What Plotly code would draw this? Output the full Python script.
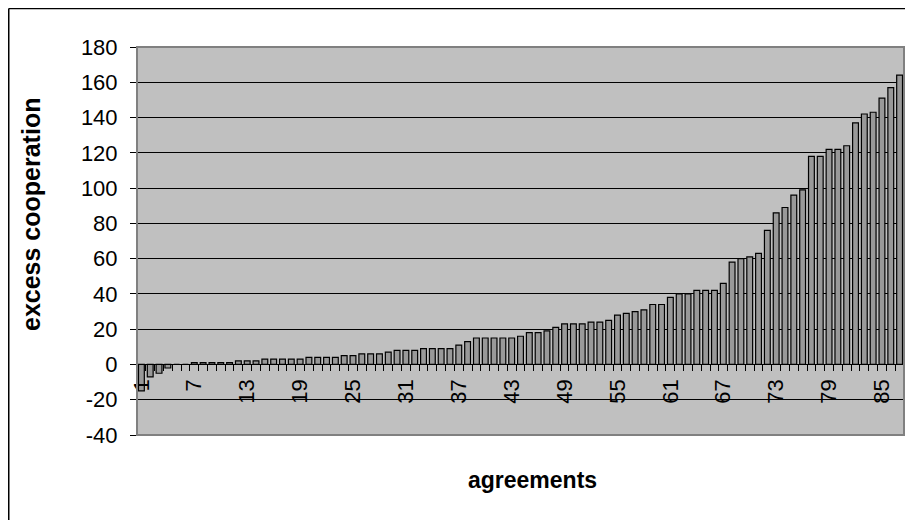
import plotly.graph_objects as go

agreements = list(range(1, 88))
excess_cooperation = [
    -15, -7, -5, -2, 0, 0, 1, 1, 1, 1,
    1, 2, 2, 2, 3, 3, 3, 3, 3, 4,
    4, 4, 4, 5, 5, 6, 6, 6, 7, 8,
    8, 8, 9, 9, 9, 9, 11, 13, 15, 15,
    15, 15, 15, 16, 18, 18, 19, 21, 23, 23,
    23, 24, 24, 25, 28, 29, 30, 31, 34, 34,
    38, 40, 40, 42, 42, 42, 46, 58, 60, 61,
    63, 76, 86, 89, 96, 99, 118, 118, 122, 122,
    124, 137, 142, 143, 151, 157, 164,
]
x_tick_vals = list(range(1, 88, 6))
x_tick_text = [str(v) for v in x_tick_vals]
y_tick_vals = list(range(-40, 181, 20))
y_tick_text = [str(v) for v in y_tick_vals]
y_range = [-40, 180]

FONT = "Liberation Sans, Arial, sans-serif"

W, H = 905, 512
L, R, T, B = 129, 9, 39, 85
PW, PH = W - L - R, H - T - B


def px(x):
    return (x - L) / PW


def py(y):
    return (H - B - y) / PH


fig = go.Figure(
    go.Bar(
        x=agreements,
        y=excess_cooperation,
        marker=dict(color="#999999", line=dict(color="#000000", width=1.2)),
        width=0.66,
    )
)

zero_pos = (0 - y_range[0]) / (y_range[1] - y_range[0])

fig.update_layout(
    width=W,
    height=H,
    margin=dict(l=L, r=R, t=T, b=B),
    paper_bgcolor="#ffffff",
    plot_bgcolor="#c0c0c0",
    showlegend=False,
    font=dict(family=FONT, color="#000000"),
    xaxis=dict(
        range=[0.5, 87.5],
        tickmode="array",
        tickvals=x_tick_vals,
        ticktext=x_tick_text,
        tickangle=-90,
        tickfont=dict(size=22, family=FONT),
        showgrid=False,
        zeroline=False,
        showline=True,
        linecolor="#000000",
        linewidth=1,
        anchor="free",
        position=zero_pos,
        ticks="outside",
        ticklen=0,
        minor=dict(ticks="outside", ticklen=6, tick0=0.5, dtick=1, tickcolor="#000000", tickwidth=1),
        ticklabelstandoff=5,
    ),
    yaxis=dict(
        range=y_range,
        tickmode="array",
        tickvals=y_tick_vals,
        ticktext=y_tick_text,
        tickfont=dict(size=22, family=FONT),
        showgrid=True,
        gridcolor="#000000",
        gridwidth=1,
        zeroline=False,
        showline=True,
        linecolor="#000000",
        linewidth=1,
        ticks="outside",
        ticklen=6,
        tickcolor="#000000",
        ticklabelstandoff=8,
    ),
    shapes=[
        dict(type="rect", xref="paper", yref="paper", x0=0, x1=1, y0=0, y1=1,
             line=dict(color="#808080", width=2), fillcolor="rgba(0,0,0,0)", layer="above"),
        dict(type="line", xref="paper", yref="paper",
             x0=px(0.75), x1=px(0.75), y0=py(0.5), y1=py(H),
             line=dict(color="#000000", width=1.5)),
        dict(type="line", xref="paper", yref="paper",
             x0=px(0.75), x1=px(W), y0=py(0.5), y1=py(0.5),
             line=dict(color="#000000", width=1.5)),
    ],
    annotations=[
        dict(text="<b>agreements</b>", xref="paper", yref="paper",
             x=px(524), y=py(472), showarrow=False,
             font=dict(size=23, family=FONT), xanchor="center", yanchor="middle"),
        dict(text="<b>excess cooperation</b>", xref="paper", yref="paper",
             x=px(23), y=py(207), showarrow=False, textangle=-90,
             font=dict(size=25, family=FONT), xanchor="center", yanchor="middle"),
    ],
)

fig.write_html("out.html")
